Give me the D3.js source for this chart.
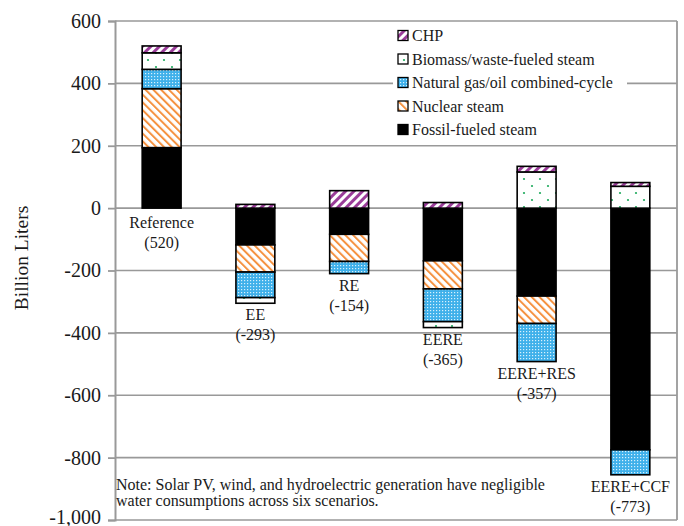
<!DOCTYPE html>
<html>
<head>
<meta charset="utf-8">
<script src="https://cdn.jsdelivr.net/npm/d3@7"></script>
<style>
  html, body { margin: 0; padding: 0; background: #fff; }
  svg { display: block; }
  text { font-family: "Liberation Serif", "Times New Roman", serif; fill: #1a1a1a; }
</style>
</head>
<body>
<svg id="chart" width="684" height="526"></svg>
<script>
// ---- data ----
const categories = ["Reference", "EE", "RE", "EERE", "EERE+RES", "EERE+CCF"];
const totals = [520, -293, -154, -365, -357, -773];
const fossil = [194, -118, -84, -169, -282, -775];
const nuclear = [189, -87, -87, -90, -88, 0];
const ngcc = [62, -82, -39, -105, -122, -80];
const biomass = [53, -18, 0, -19, 116, 70];
const chp = [22, 12, 56, 18, 18, 12];
const yTicks = [600, 400, 200, 0, -200, -400, -600, -800, -1000];
const yTickLabels = ["600", "400", "200", "0", "-200", "-400", "-600", "-800", "-1,000"];
const seriesKeys = ["fossil", "nuclear", "ngcc", "biomass", "chp"];
const seriesNames = {
  chp: "CHP",
  biomass: "Biomass/waste-fueled steam",
  ngcc: "Natural gas/oil combined-cycle",
  nuclear: "Nuclear steam",
  fossil: "Fossil-fueled steam"
};
const legendOrder = ["chp", "biomass", "ngcc", "nuclear", "fossil"];
const noteLines = [
  "Note: Solar PV, wind, and hydroelectric generation have negligible",
  "water consumptions across six scenarios."
];

(function () {
const rows = categories.map((c, i) => ({
  category: c, total: totals[i],
  fossil: fossil[i], nuclear: nuclear[i], ngcc: ngcc[i], biomass: biomass[i], chp: chp[i]
}));

// ---- layout ----
const svg = d3.select("#chart");
const pL = 115, pR = 677, pT = 21, pB = 520;

const x = d3.scaleBand().domain(categories).range([pL, pR]).paddingInner(0.585).paddingOuter(0.29);
const y = d3.scaleLinear().domain([600, -1000]).range([pT, pB]);

// ---- patterns ----
const defs = svg.append("defs");
function stripes(id, color, angle, gap, w) {
  const p = defs.append("pattern").attr("id", id).attr("patternUnits", "userSpaceOnUse")
    .attr("width", gap).attr("height", gap).attr("patternTransform", `rotate(${angle})`);
  p.append("rect").attr("width", gap).attr("height", gap).attr("fill", "#fff");
  p.append("rect").attr("width", w).attr("height", gap).attr("fill", color);
}
stripes("pat-chp", "#9a3c99", 45, 6, 3);
stripes("pat-nuclear", "#f5913f", -45, 5.5, 2);
{
  const p = defs.append("pattern").attr("id", "pat-ngcc").attr("patternUnits", "userSpaceOnUse")
    .attr("width", 3).attr("height", 3);
  p.append("rect").attr("width", 3).attr("height", 3).attr("fill", "#3fb0ea");
  p.append("rect").attr("x", 1).attr("y", 1).attr("width", 1.2).attr("height", 1.2).attr("fill", "#d9f1fc");
}
{
  const p = defs.append("pattern").attr("id", "pat-biomass").attr("patternUnits", "userSpaceOnUse")
    .attr("width", 16).attr("height", 14);
  p.append("rect").attr("width", 16).attr("height", 14).attr("fill", "#fff");
  p.append("circle").attr("cx", 4).attr("cy", 4).attr("r", 1.1).attr("fill", "#1eaa5c");
  p.append("circle").attr("cx", 12).attr("cy", 11).attr("r", 1.1).attr("fill", "#1eaa5c");
}
const fills = {
  fossil: "#000", nuclear: "url(#pat-nuclear)", ngcc: "url(#pat-ngcc)",
  biomass: "url(#pat-biomass)", chp: "url(#pat-chp)"
};

// ---- grid & frame ----
const gridColor = "#999";
svg.append("g").selectAll("line").data(yTicks).join("line")
  .attr("x1", pL).attr("x2", pR)
  .attr("y1", d => y(d)).attr("y2", d => y(d))
  .attr("stroke", gridColor).attr("stroke-width", 1.6);
svg.append("line").attr("x1", pR).attr("x2", pR).attr("y1", pT).attr("y2", pB)
  .attr("stroke", gridColor).attr("stroke-width", 1.8);

// ---- y axis ----
const yAxis = d3.axisLeft(y).tickValues(yTicks).tickSize(7).tickPadding(7)
  .tickFormat((d, i) => yTickLabels[i]);
const gy = svg.append("g").attr("transform", `translate(${pL},0)`).call(yAxis);
gy.select(".domain").attr("stroke", gridColor).attr("stroke-width", 2);
gy.selectAll(".tick line").attr("stroke", gridColor).attr("stroke-width", 1.8);
gy.selectAll(".tick text").attr("font-size", 20).attr("font-family", "Liberation Serif, serif").attr("fill", "#1a1a1a")
  .attr("dy", d => d === -1000 ? "0.15em" : "0.32em");

svg.append("text").attr("transform", `translate(28,258) rotate(-90)`)
  .attr("text-anchor", "middle").attr("font-size", 19.5).text("Billion Liters");

// ---- legend ----
const lg = svg.append("g");
lg.append("rect").attr("x", 393).attr("y", 23).attr("width", 234).attr("height", 119).attr("fill", "#fff");
legendOrder.forEach((k, i) => {
  const cy = 35.5 + i * 23.5;
  lg.append("rect").attr("x", 398).attr("y", cy - 5).attr("width", 10).attr("height", 10)
    .attr("fill", fills[k]).attr("stroke", "#000").attr("stroke-width", 1.3);
  lg.append("text").attr("x", 412).attr("y", cy + 5.5).attr("font-size", 16).text(seriesNames[k]);
});

// ---- bars ----
const stack = d3.stack().keys(seriesKeys).offset(d3.stackOffsetDiverging);
const stacked = stack(rows);
const bars = svg.append("g");
stacked.forEach(s => {
  bars.append("g").selectAll("rect").data(s.filter(d => d[1] !== d[0])).join("rect")
    .attr("x", d => x(d.data.category))
    .attr("width", x.bandwidth())
    .attr("y", d => y(d[1]))
    .attr("height", d => y(d[0]) - y(d[1]))
    .attr("fill", fills[s.key])
    .attr("stroke", "#000").attr("stroke-width", 1.6);
});

// ---- category labels ----
const lowest = rows.map(r => Math.min(0, d3.sum(seriesKeys, k => Math.min(0, r[k]))));
const lab = svg.append("g").attr("text-anchor", "middle").attr("font-size", 16);
rows.forEach((r, i) => {
  const cx = x(r.category) + x.bandwidth() / 2;
  const base = y(lowest[i]) + (lowest[i] === 0 ? 20 : 17);
  lab.append("text").attr("x", cx).attr("y", base).text(r.category);
  lab.append("text").attr("x", cx).attr("y", base + 20).text(`(${r.total})`);
});

// ---- note ----
const nt = svg.append("text").attr("font-size", 16);
noteLines.forEach((t, i) => nt.append("tspan").attr("x", 116).attr("y", 490 + i * 15.5).text(t));
})();
</script>
</body>
</html>
